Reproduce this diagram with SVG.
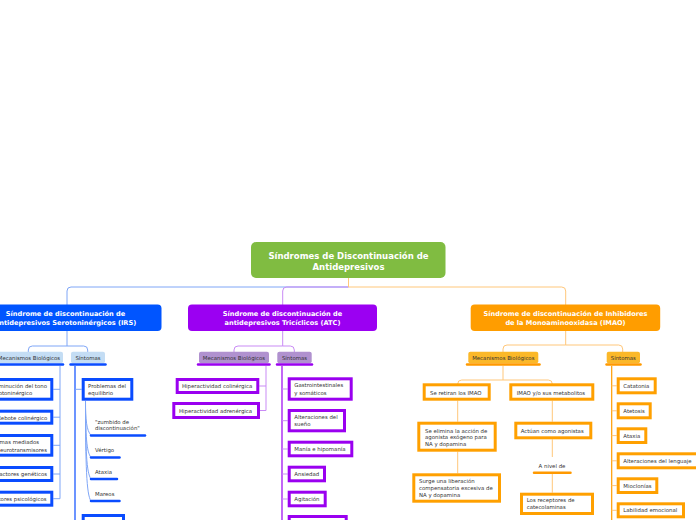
<svg xmlns="http://www.w3.org/2000/svg" width="696" height="520" viewBox="0 0 696 520">
<style>
text{font-family:"DejaVu Sans","Verdana",sans-serif;}
.tt{font-weight:bold;fill:#fff;text-anchor:middle;}
.t{font-size:5.4px;fill:#333;}
.p{font-size:5.4px;fill:#333;text-anchor:middle;}
.bb{fill:#fff;stroke:#0a4cff;stroke-width:3;}
.pb{fill:#fff;stroke:#9a00f0;stroke-width:3;}
.ob{fill:#fff;stroke:#ffa000;stroke-width:3;}
.cb{fill:none;stroke:#7fa6f7;stroke-width:1;}
.cp{fill:none;stroke:#c98bf5;stroke-width:1;}
.co{fill:none;stroke:#ffc77a;stroke-width:1;}
.db{fill:none;stroke:#0a4cff;stroke-width:1.2;}
.dp{fill:none;stroke:#9a00f0;stroke-width:1.2;}
.do{fill:none;stroke:#ff9d00;stroke-width:1.2;}
.ub{stroke:#0a4cff;stroke-width:2.5;stroke-linecap:round;}
.up{stroke:#9a00f0;stroke-width:2.5;stroke-linecap:round;}
.uo{stroke:#ff9900;stroke-width:2.5;stroke-linecap:round;}
</style>

<g id="connectors">
  <path class="cb" d="M348.5,278 V287 H71 Q67,287 67,291 V305"/>
  <path class="cp" d="M348.5,287 H286.7 Q282.7,287 282.7,291 V305"/>
  <path class="co" d="M348.5,278 V287 H561.7 Q565.7,287 565.7,291 V305"/>
  <path class="cb" d="M67,331 V346 H32.3 Q28.3,346 28.3,350 V352"/>
  <path class="cb" d="M67,346 H83.7 Q87.7,346 87.7,350 V352"/>
  <path class="cp" d="M282.7,331 V346 H238 Q234,346 234,350 V352"/>
  <path class="cp" d="M282.7,346 H290.3 Q294.3,346 294.3,350 V352"/>
  <path class="co" d="M565.7,331 V345 H507 Q503,345 503,349 V352"/>
  <path class="co" d="M565.7,345 H618.7 Q622.7,345 622.7,349 V352"/>
  <path class="cb" d="M60,366 V498.7"/>
  <path class="cb" d="M53.3,389.3 H60 M53.3,417.2 H60 M53.3,445.3 H60 M53.3,474 H60 M53.3,498.7 H60"/>
  <path class="db" d="M75,366 V520"/>
  <path class="cb" d="M75,389.3 H81.7"/>
  <path class="cb" d="M85.5,401 C85.5,420 86.5,430 91,435.5"/>
  <path class="cb" d="M85.5,401 C85.5,435 86.5,452 91,457.5"/>
  <path class="cb" d="M85.5,401 C85.5,450 86.5,473 91,479"/>
  <path class="cb" d="M85.5,401 C85.5,465 86.5,495 91,501"/>
  <path class="cp" d="M266,366 V410.5"/>
  <path class="cp" d="M259.3,386 H266 M260,410.5 H266"/>
  <path class="dp" d="M282,366 V520"/>
  <path class="cp" d="M282,389 H287.7 M282,420.7 H287.7 M282,449 H287.7 M282,474 H287.7 M282,499 H287.7"/>
  <path class="co" d="M503,366 V380 M461.7,380 H548.3 M461.7,380 Q457.7,380 457.7,384 V384.3 M548.3,380 Q552.3,380 552.3,384 V384.3"/>
  <path class="co" d="M457.7,400.7 V421.7 M457.7,451.7 V473.3"/>
  <path class="co" d="M552.3,400.7 V421.7 M552.3,439.3 V457 M552.3,474 V492.7"/>
  <path class="do" d="M611.7,366 V520"/>
  <path class="co" d="M611.7,385.8 H616.7 M611.7,410.8 H616.7 M611.7,435.6 H616.7 M611.7,460.8 H616.7 M611.7,485.6 H616.7 M611.7,510.3 H616.7"/>
</g>

<g id="root">
  <rect x="251" y="242" width="194.5" height="36" rx="5" fill="#80bc41"/>
  <text class="tt" x="348.5" y="258.5" font-size="8.5">Síndromes de Discontinuación de</text>
  <text class="tt" x="348.5" y="269.5" font-size="8.5">Antidepresivos</text>
</g>

<g id="irs">
  <rect x="-24" y="304.5" width="185.5" height="26.5" rx="4" fill="#0055ff"/>
  <text class="tt" x="65.5" y="316" font-size="6.6">Síndrome de discontinuación de</text>
  <text class="tt" x="65.5" y="325" font-size="6.6">antidepresivos Serotoninérgicos (IRS)</text>
</g>
<g id="atc">
  <rect x="188" y="304.5" width="189" height="26.5" rx="4" fill="#9b00f2"/>
  <text class="tt" x="282.5" y="316" font-size="6.6">Síndrome de discontinuación de</text>
  <text class="tt" x="282.5" y="325" font-size="6.6">antidepresivos Tricíclicos (ATC)</text>
</g>
<g id="imao">
  <rect x="470.7" y="304.5" width="189.5" height="26.5" rx="4" fill="#ff9d00"/>
  <text class="tt" x="565.5" y="316" font-size="6.6">Síndrome de discontinuación de Inhibidores</text>
  <text class="tt" x="565.5" y="325" font-size="6.6">de la Monoaminooxidasa (IMAO)</text>
</g>

<g id="irs-mec">
  <rect x="-5" y="351.7" width="68" height="11.5" rx="2" fill="#c4ddf4"/>
  <line class="ub" x1="-5" y1="364.5" x2="63" y2="364.5"/>
  <text class="p" x="29" y="359.6">Mecanismos Biológicos</text>
</g>
<g id="irs-sin">
  <rect x="71" y="351.7" width="34" height="11.5" rx="2" fill="#c4ddf4"/>
  <line class="ub" x1="70.5" y1="364.5" x2="105.5" y2="364.5"/>
  <text class="p" x="88" y="359.6">Síntomas</text>
</g>
<g id="atc-mec">
  <rect x="199" y="351.7" width="70" height="11.5" rx="2" fill="#b091cf"/>
  <line class="up" x1="198" y1="364.5" x2="269.5" y2="364.5"/>
  <text class="p" x="234" y="359.6">Mecanismos Biológicos</text>
</g>
<g id="atc-sin">
  <rect x="277.3" y="351.7" width="34.4" height="11.5" rx="2" fill="#b091cf"/>
  <line class="up" x1="277" y1="364.5" x2="312" y2="364.5"/>
  <text class="p" x="294.5" y="359.6">Síntomas</text>
</g>
<g id="imao-mec">
  <rect x="468.3" y="351.7" width="70" height="11.5" rx="2" fill="#fbb829"/>
  <line class="uo" x1="467" y1="364.5" x2="539.5" y2="364.5"/>
  <text class="p" x="503.3" y="359.6">Mecanismos Biológicos</text>
</g>
<g id="imao-sin">
  <rect x="606.7" y="351.7" width="33.3" height="11.5" rx="2" fill="#fbb829"/>
  <line class="uo" x1="606.5" y1="364.5" x2="640.5" y2="364.5"/>
  <text class="p" x="623.3" y="359.6">Síntomas</text>
</g>

<g id="irs-m1"><rect class="bb" x="-40" y="379.5" width="91.8" height="19.7"/>
  <text class="t" x="47" y="387.6" text-anchor="end">Disminución del tono</text>
  <text class="t" x="32.3" y="395" text-anchor="end">serotoninérgico</text></g>
<g id="irs-m2"><rect class="bb" x="-40" y="411.2" width="91.8" height="12"/>
  <text class="t" x="47.3" y="419.6" text-anchor="end">Rebote colinérgico</text></g>
<g id="irs-m3"><rect class="bb" x="-40" y="435.5" width="91.8" height="19.7"/>
  <text class="t" x="39" y="444.3" text-anchor="end">Síntomas mediados</text>
  <text class="t" x="47" y="451.6" text-anchor="end">por neurotransmisores</text></g>
<g id="irs-m4"><rect class="bb" x="-40" y="467.5" width="91.8" height="13"/>
  <text class="t" x="47" y="475.8" text-anchor="end">Factores genéticos</text></g>
<g id="irs-m5"><rect class="bb" x="-40" y="492.2" width="91.8" height="13"/>
  <text class="t" x="46.6" y="500.9" text-anchor="end">Factores psicológicos</text></g>

<g id="irs-s1"><rect class="bb" x="83.2" y="379.5" width="48.6" height="19.7"/>
  <text class="t" x="88" y="387.6">Problemas del</text>
  <text class="t" x="88" y="395">equilibrio</text></g>
<g id="irs-s1a"><text class="t" x="95" y="423.5">"zumbido de</text>
  <text class="t" x="95" y="429.7">discontinuación"</text>
  <line class="ub" x1="91" y1="435.5" x2="145" y2="435.5"/></g>
<g id="irs-s1b"><text class="t" x="95" y="451.6">Vértigo</text>
  <line class="ub" x1="91" y1="457.5" x2="119.5" y2="457.5"/></g>
<g id="irs-s1c"><text class="t" x="95" y="473.6">Ataxia</text>
  <line class="ub" x1="91" y1="479" x2="117" y2="479"/></g>
<g id="irs-s1d"><text class="t" x="95" y="495.6">Mareos</text>
  <line class="ub" x1="91" y1="501" x2="119.5" y2="501"/></g>
<g id="irs-s2"><rect class="bb" x="83.2" y="515.5" width="40.3" height="12"/></g>

<g id="atc-m1"><rect class="pb" x="177.2" y="379.5" width="80.6" height="13"/>
  <text class="t" x="182" y="387.8">Hiperactividad colinérgica</text></g>
<g id="atc-m2"><rect class="pb" x="173.8" y="403.5" width="84.7" height="14"/>
  <text class="t" x="179" y="412.8">Hiperactividad adrenérgica</text></g>

<g id="atc-s1"><rect class="pb" x="289.2" y="378.8" width="62" height="20.4"/>
  <text class="t" x="294.3" y="387.4">Gastrointestinales</text>
  <text class="t" x="294.3" y="394.9">y somáticos</text></g>
<g id="atc-s2"><rect class="pb" x="289.2" y="410.5" width="55.3" height="20.3"/>
  <text class="t" x="294.3" y="419.3">Alteraciones del</text>
  <text class="t" x="294.3" y="425.8">sueño</text></g>
<g id="atc-s3"><rect class="pb" x="289.2" y="442.2" width="62.6" height="13.6"/>
  <text class="t" x="294.3" y="450.9">Manía e hipomanía</text></g>
<g id="atc-s4"><rect class="pb" x="289.2" y="467.2" width="35.3" height="13.6"/>
  <text class="t" x="294.3" y="475.7">Ansiedad</text></g>
<g id="atc-s5"><rect class="pb" x="289.2" y="492.2" width="36" height="13.6"/>
  <text class="t" x="294.3" y="500.7">Agitación</text></g>
<g id="atc-s6"><rect class="pb" x="289.2" y="516.5" width="57" height="12"/></g>

<g id="imao-m1"><rect class="ob" x="424.2" y="384.8" width="65" height="14.4"/>
  <text class="t" x="430" y="394.6">Se retiran los IMAO</text></g>
<g id="imao-m2"><rect class="ob" x="510.8" y="384.8" width="82" height="14.4"/>
  <text class="t" x="516.7" y="394.6">IMAO y/o sus metabolitos</text></g>
<g id="imao-m3"><rect class="ob" x="418.8" y="423.2" width="76.4" height="27"/>
  <text class="t" x="425" y="432.6">Se elimina la acción de</text>
  <text class="t" x="425" y="439">agonista exógeno para</text>
  <text class="t" x="425" y="445.6">NA y dopamina</text></g>
<g id="imao-m4"><rect class="ob" x="413.8" y="474.8" width="85.7" height="26.4"/>
  <text class="t" x="419" y="483">Surge una liberación</text>
  <text class="t" x="419" y="489.8">compensatoria excesiva de</text>
  <text class="t" x="419" y="496.9">NA y dopamina</text></g>
<g id="imao-m5"><rect class="ob" x="515.8" y="423.2" width="75" height="14.6"/>
  <text class="t" x="520.7" y="432.8">Actúan como agonistas</text></g>
<g id="imao-m6"><text class="t" x="552" y="468.3" text-anchor="middle">A nivel de</text>
  <line class="uo" x1="534" y1="472.7" x2="570.5" y2="472.7"/></g>
<g id="imao-m7"><rect class="ob" x="521.5" y="494.2" width="71" height="19.3"/>
  <text class="t" x="526.7" y="502.3">Los receptores de</text>
  <text class="t" x="526.7" y="508.8">catecolaminas</text></g>

<g id="imao-s1"><rect class="ob" x="618.2" y="378.8" width="37" height="14"/>
  <text class="t" x="623.3" y="387.7">Catatonia</text></g>
<g id="imao-s2"><rect class="ob" x="618.2" y="403.8" width="32" height="14"/>
  <text class="t" x="623.3" y="412.8">Atetosis</text></g>
<g id="imao-s3"><rect class="ob" x="618.2" y="428.8" width="27.6" height="13.7"/>
  <text class="t" x="623.3" y="437.6">Ataxia</text></g>
<g id="imao-s4"><rect class="ob" x="618.2" y="453.8" width="82" height="14"/>
  <text class="t" x="623.3" y="462.6">Alteraciones del lenguaje</text></g>
<g id="imao-s5"><rect class="ob" x="618.2" y="478.8" width="38.6" height="13.7"/>
  <text class="t" x="623.3" y="487.6">Mioclonías</text></g>
<g id="imao-s6"><rect class="ob" x="618.2" y="503.8" width="65.3" height="13"/>
  <text class="t" x="623.3" y="512.4">Labilidad emocional</text></g>
</svg>
